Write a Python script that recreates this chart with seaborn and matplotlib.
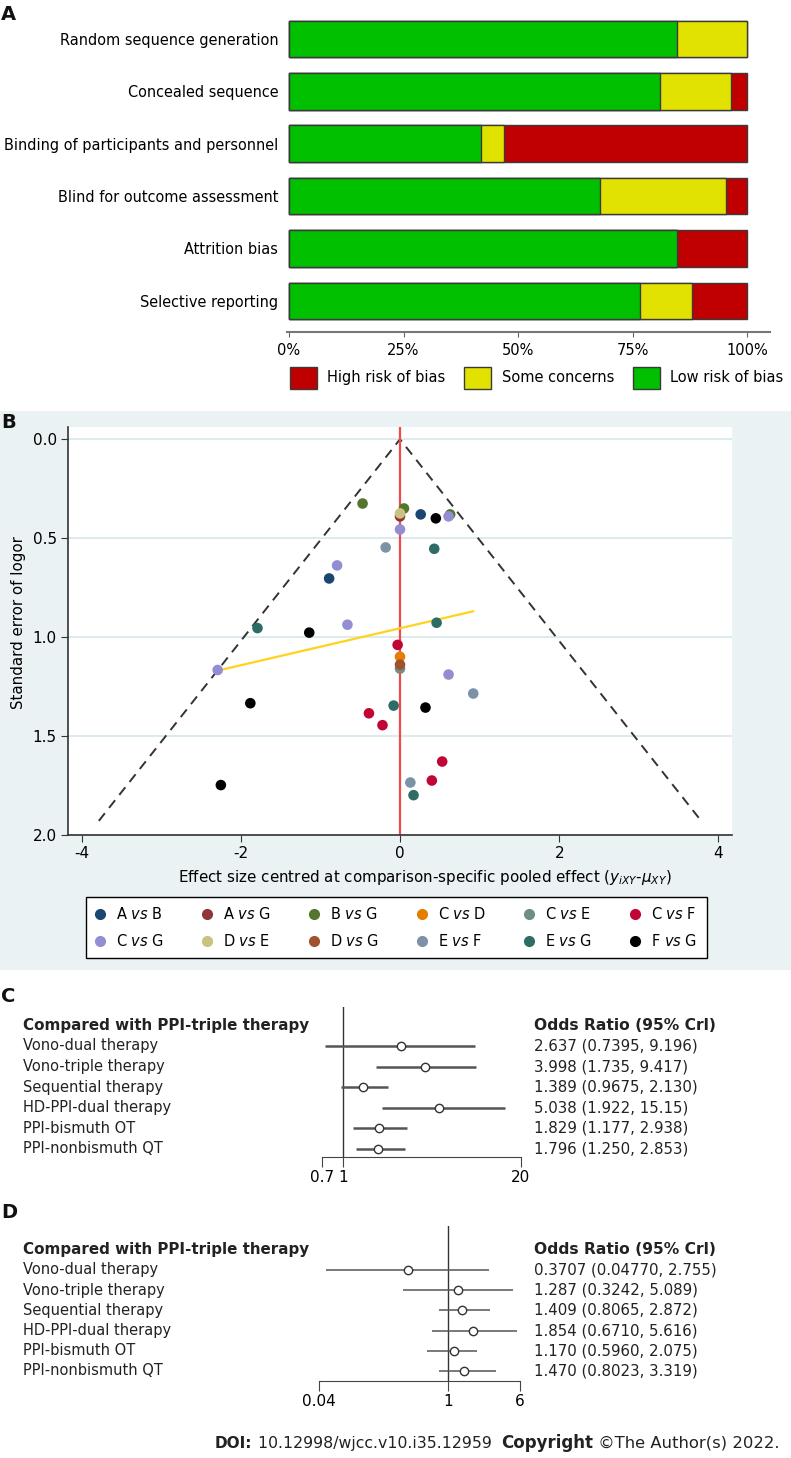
import matplotlib
matplotlib.use("Agg")
import matplotlib.pyplot as plt
import matplotlib.transforms as mtransforms
from matplotlib.patches import Patch
from matplotlib.lines import Line2D
from matplotlib.ticker import NullLocator
import seaborn as sns
import pandas as pd

# ---- data ----
# A: risk of bias (% of studies)
domains = ["Random sequence generation", "Concealed sequence",
           "Binding of participants and personnel", "Blind for outcome assessment",
           "Attrition bias", "Selective reporting"]
low_risk = [84.6, 80.9, 41.9, 67.8, 84.6, 76.7]
some_concerns = [15.4, 15.6, 5.0, 27.6, 0.0, 11.2]
high_risk = [0.0, 3.5, 53.1, 4.6, 15.4, 12.1]

# B: comparison-adjusted funnel plot
comparisons = ["A vs B", "A vs G", "B vs G", "C vs D", "C vs E", "C vs F",
               "C vs G", "D vs E", "D vs G", "E vs F", "E vs G", "F vs G"]
comp_colors = ["#1a476f", "#90353b", "#55752f", "#e37e00", "#6e8e84", "#c10534",
               "#938dd2", "#cac27e", "#a0522d", "#7b92a8", "#2d6d66", "#000000"]
study_comp = (["A vs B"] * 2 + ["A vs G"] + ["B vs G"] * 3 + ["C vs D"] + ["C vs E"]
              + ["C vs F"] * 5 + ["C vs G"] * 6 + ["D vs E"] + ["D vs G"]
              + ["E vs F"] * 3 + ["E vs G"] * 5 + ["F vs G"] * 5)
effect_centred = [0.26, -0.89,
                  0.0,
                  -0.47, 0.05, 0.63,
                  0.0,
                  0.0,
                  -0.03, -0.39, -0.22, 0.53, 0.40,
                  0.61, 0.0, -0.79, -0.66, 0.61, -2.29,
                  0.0,
                  0.0,
                  -0.18, 0.92, 0.13,
                  0.43, -1.79, 0.46, -0.08, 0.17,
                  0.45, -1.14, -1.88, 0.32, -2.25]
std_err = [0.38, 0.704,
           0.39,
           0.325, 0.35, 0.38,
           1.10,
           1.16,
           1.04, 1.386, 1.446, 1.63, 1.726,
           0.39, 0.456, 0.638, 0.938, 1.19, 1.167,
           0.375,
           1.14,
           0.547, 1.286, 1.736,
           0.554, 0.955, 0.928, 1.347, 1.80,
           0.40, 0.978, 1.335, 1.357, 1.749]
funnel_se_max = 1.93
reg_x = [-2.29, 0.92]
reg_se = [1.17, 0.87]

# C / D: odds ratios vs PPI-triple therapy
therapies = ["Vono-dual therapy", "Vono-triple therapy", "Sequential therapy",
             "HD-PPI-dual therapy", "PPI-bismuth OT", "PPI-nonbismuth QT"]
or_c = [2.637, 3.998, 1.389, 5.038, 1.829, 1.796]
lo_c = [0.7395, 1.735, 0.9675, 1.922, 1.177, 1.250]
hi_c = [9.196, 9.417, 2.130, 15.15, 2.938, 2.853]
or_d = [0.3707, 1.287, 1.409, 1.854, 1.170, 1.470]
lo_d = [0.04770, 0.3242, 0.8065, 0.6710, 0.5960, 0.8023]
hi_d = [2.755, 5.089, 2.872, 5.616, 2.075, 3.319]
ticks_c = [0.7, 1, 20]
ticks_d = [0.04, 1, 6]

# ---- figure ----
plt.rcParams["font.family"] = ["DejaVu Sans"]
plt.rcParams["axes.unicode_minus"] = False
W, H = 791, 1458
fig = plt.figure(figsize=(W / 100, H / 100), dpi=100)


def px_axes(left, top, right, bottom, **kw):
    return fig.add_axes([left / W, 1 - bottom / H, (right - left) / W, (bottom - top) / H], **kw)


def fx(x):
    return x / W


def fy(y):
    return 1 - y / H


# ================= A =================
axA = px_axes(287.2, 12.8, 770, 332.3)
dfA = pd.DataFrame({"domain": domains, "low": low_risk,
                    "some": some_concerns, "high": high_risk})
dfA["c_some"] = dfA["low"] + dfA["some"]
dfA["c_high"] = dfA["c_some"] + dfA["high"]
green, yellow, red = "#00c000", "#e2e200", "#c00000"
for col, c in [("c_high", red), ("c_some", yellow), ("low", green)]:
    sns.barplot(data=dfA, x=col, y="domain", orient="h", color=c, saturation=1,
                width=0.7, edgecolor="#3a3a3a", linewidth=1, ax=axA)
axA.set_xlim(-0.4, 105)
axA.set_ylim(5.6, -0.5)
axA.set_xlabel("")
axA.set_ylabel("")
axA.set_xticks([0, 25, 50, 75, 100])
axA.set_xticklabels(["0%", "25%", "50%", "75%", "100%"])
axA.tick_params(axis="x", length=3.6, color="#666", labelsize=10.5, pad=4)
axA.tick_params(axis="y", length=0, labelsize=10.45, pad=6.5)
for s in ["top", "right", "left"]:
    axA.spines[s].set_visible(False)
axA.spines["bottom"].set_color("#777")
axA.spines["bottom"].set_linewidth(1.5)
legA = [Patch(facecolor=red, edgecolor="#3a3a3a", label="High risk of bias"),
        Patch(facecolor=yellow, edgecolor="#3a3a3a", label="Some concerns"),
        Patch(facecolor=green, edgecolor="#3a3a3a", label="Low risk of bias")]
axA.legend(handles=legA, ncol=3, loc="upper left", bbox_to_anchor=(fx(290), fy(367)),
           bbox_transform=fig.transFigure, frameon=False, fontsize=10.5,
           handlelength=1.85, handleheight=1.9, handletextpad=0.7,
           columnspacing=1.3, borderpad=0, borderaxespad=0)

# ================= B =================
bg = px_axes(0, 411, 791, 970)
bg.set_facecolor("#eaf2f3")
bg.set_xticks([])
bg.set_yticks([])
for s in bg.spines.values():
    s.set_visible(False)

axB = px_axes(68, 427, 732, 834.7)
axB.set_facecolor("white")
axB.set_xlim(-4.17, 4.17)
axB.set_ylim(2.0, -0.062)
axB.yaxis.grid(True, color="#dcebee", lw=1.4)
axB.set_axisbelow(True)
axB.plot([-1.96 * funnel_se_max, 0, 1.96 * funnel_se_max], [funnel_se_max, 0, funnel_se_max],
         ls=(0, (5, 3.5)), color="#333333", lw=1.4, zorder=2)
axB.axvline(0, color="#f24a4a", lw=1.6, zorder=2)
axB.plot(reg_x, reg_se, color="#ffd21c", lw=1.6, zorder=2)
dfB = pd.DataFrame({"comp": study_comp, "x": effect_centred, "se": std_err})
palette = dict(zip(comparisons, comp_colors))
sns.scatterplot(data=dfB, x="x", y="se", hue="comp", hue_order=comparisons,
                palette=palette, s=58, linewidth=0, legend=False, ax=axB, zorder=3)
axB.set_xticks([-4, -2, 0, 2, 4])
axB.set_yticks([0, 0.5, 1.0, 1.5, 2.0])
axB.set_yticklabels(["0.0", "0.5", "1.0", "1.5", "2.0"])
axB.tick_params(length=5, color="#333", labelsize=11, pad=3)
for s in ["top", "right"]:
    axB.spines[s].set_visible(False)
for s in ["left", "bottom"]:
    axB.spines[s].set_color("#333")
    axB.spines[s].set_linewidth(1.2)
axB.set_xlabel("Effect size centred at comparison-specific pooled effect "
               r"$(y_{iXY}$-$\mu_{XY})$", fontsize=10.9)
axB.xaxis.set_label_coords((425 - 68) / 664, -0.082)
axB.set_ylabel("Standard error of logor", fontsize=10.8)
axB.yaxis.set_label_coords(-0.064, 0.52)
handles = [Line2D([], [], marker="o", ls="", color=c, markersize=7,
                  label=l.replace(" vs ", r" $\it{vs}$ "))
           for l, c in zip(comparisons, comp_colors)]
order = []
for i in range(6):
    order += [i, i + 6]
axB.legend(handles=[handles[i] for i in order], ncol=6, loc="upper left",
           bbox_to_anchor=(fx(86), fy(897)), bbox_transform=fig.transFigure,
           frameon=True, fancybox=False, edgecolor="black", framealpha=1,
           fontsize=10.5, handlelength=0.6, handletextpad=0.8, columnspacing=2.65,
           borderpad=0.65, labelspacing=0.7, borderaxespad=0)


# ================= C / D =================
def forest(ax, orv, lo, hi, ticks, lw):
    idx = list(range(len(orv)))
    ax.set_xscale("log")
    ax.hlines(idx, lo, hi, color="#555", lw=lw, zorder=2)
    ax.axvline(1, color="#333", lw=1, zorder=1)
    dfF = pd.DataFrame({"or": orv, "row": idx})
    sns.scatterplot(data=dfF, x="or", y="row", color="white", edgecolor="#333",
                    linewidth=1, s=36, ax=ax, zorder=3)
    ax.set_xticks(ticks)
    ax.set_xticklabels([f"{t:g}" for t in ticks])
    ax.xaxis.set_minor_locator(NullLocator())
    ax.set_yticks([])
    ax.set_xlabel("")
    ax.set_ylabel("")
    ax.tick_params(axis="x", length=7, color="#444", labelsize=11, pad=2)
    for s in ["top", "right", "left"]:
        ax.spines[s].set_visible(False)
    ax.spines["bottom"].set_color("#444")
    ax.patch.set_alpha(0)
    tr = mtransforms.blended_transform_factory(fig.transFigure, ax.transData)
    fig.text(fx(23), -1, "Compared with PPI-triple therapy", transform=tr,
             fontsize=10.9, fontweight="bold", va="center", color="#222")
    fig.text(fx(534), -1, "Odds Ratio (95% Crl)", transform=tr,
             fontsize=11.2, fontweight="bold", va="center", color="#222")
    for i, (n, o, a, b) in enumerate(zip(therapies, orv, lo, hi)):
        fig.text(fx(23), i, n, transform=tr, fontsize=10.5, va="center", color="#222")
        fig.text(fx(534), i, f"{o:#.4g} ({a:#.4g}, {b:#.4g})", transform=tr,
                 fontsize=10.8, va="center", color="#222")


axC = px_axes(322, 1007, 521, 1157)
forest(axC, or_c, lo_c, hi_c, ticks_c, 1.8)
axC.set_xlim(0.7, 20)
axC.set_ylim(5.39, -1.89)

axD = px_axes(319, 1226, 520, 1381)
forest(axD, or_d, lo_d, hi_d, ticks_d, 1.1)
axD.set_xlim(0.04, 6)
axD.set_ylim(5.5, -2.18)

# panel letters and footer
for lab, y in [("A", 15), ("B", 423), ("C", 997), ("D", 1213)]:
    fig.text(fx(1), fy(y), lab, fontsize=14, fontweight="bold", va="center", color="#111")

renderer = fig.canvas.get_renderer()
pieces = [("DOI:", "bold", 11), (" 10.12998/wjcc.v10.i35.12959  ", "normal", 11.3),
          ("Copyright", "bold", 12), (" \u00a9The Author(s) 2022.", "normal", 11.75)]
x_px = 215
for txt, wt, fs in pieces:
    t = fig.text(fx(x_px), fy(1448), txt, fontweight=wt, fontsize=fs,
                 va="baseline", ha="left", color="#222")
    x_px = t.get_window_extent(renderer).x1

fig.savefig("out.png", dpi=100)
